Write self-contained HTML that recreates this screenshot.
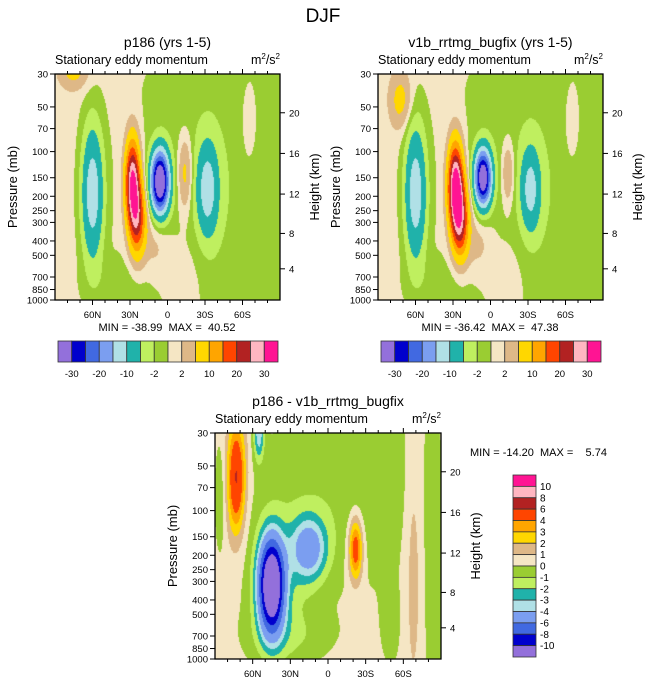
<!DOCTYPE html>
<html><head><meta charset="utf-8">
<style>
body{margin:0;background:#fff;width:647px;height:683px;overflow:hidden;position:relative;font-family:"Liberation Sans",sans-serif}
canvas{position:absolute}
svg{position:absolute;left:0;top:0}
</style></head>
<body>
<canvas id="c1" width="225" height="226" style="left:55px;top:74px"></canvas>
<canvas id="c2" width="225" height="226" style="left:378px;top:74px"></canvas>
<canvas id="c3" width="226" height="226" style="left:215px;top:433px"></canvas>
<svg id="s" width="647" height="683"></svg>
<script>
// ---- data ----
const levels12 = [-30,-25,-20,-15,-10,-5,-2,0,2,5,10,15,20,25,30];
const levels3 = [-10,-8,-6,-4,-3,-2,-1,0,1,2,3,4,6,8,10];
const levelLabels12 = ["-30","-20","-10","-2","2","10","20","30"];
const levelLabels3 = ["10","8","6","4","3","2","1","0","-1","-2","-3","-4","-6","-8","-10"];
const pressureTicks = [30,50,70,100,150,200,250,300,400,500,700,850,1000];
const heightTicks = [4,8,12,16,20];
const latTicks = [60,30,0,-30,-60];
const latLabels = ["60N","30N","0","30S","60S"];
const colors = ["#9370DB","#0000CD","#4169E1","#7B9EF0","#B0E0E6","#20B2AA","#BFEF5F","#9ACD32","#F5E6C4","#DEB887","#FFD700","#FFA500","#FF4500","#B22222","#FFB6C1","#FF1493"];
// panel 1 blobs
const p1Lat = [-38,60,28,24,6,10,-14,-32,75,-65,40,-80,-15];
const p1P   = [170,190,160,280,160,400,140,180,28,70,800,500,650];
const p1Amp = [-2.7,-14,30,20,-40,3,7,-12,6,2,-1.5,-1,1.6];
const p1Sx  = [45,6,4,4.5,5,8,4,6,8,5,20,6,12];
const p1Sy  = [1.8,0.72,0.45,0.4,0.33,0.4,0.4,0.5,0.2,0.5,0.3,1,0.6];
// panel 2 blobs
const p2Lat = [-38,60,28,24,6,10,-14,-32,72,-65,40,-80,-15];
const p2P   = [170,190,170,290,150,400,140,180,45,70,800,500,650];
const p2Amp = [-2.7,-14,34,22,-37,3,6,-11,6,2,-1.5,-1,1.6];
const p2Sx  = [45,6,4.2,4.6,4.6,8,3.5,5.5,6,5,20,6,12];
const p2Sy  = [1.8,0.72,0.45,0.4,0.3,0.4,0.35,0.45,0.3,0.5,0.3,1,0.6];
// panel 3 blobs
const p3Lat = [-20,73,45,15,-22,55,-68,40,86,30,-84,-50];
const p3P   = [60,60,320,180,180,30,150,300,80,700,500,600];
const p3Amp = [-1.4,5.8,-14,-5,5.2,-4,1.25,-1.6,-1.2,-1,-1.2,-0.9];
const p3Sx  = [45,5,7,10,4,3,5,18,3,25,5,6];
const p3Sy  = [1.2,0.6,0.5,0.35,0.35,0.3,1.5,0.9,0.6,0.3,1.5,0.5];

const LN30=Math.log(30), LNR=Math.log(1000/30);
function drawField(id,lat,P,amp,sx,sy,base,levels){
  const cv=document.getElementById(id),ctx=cv.getContext('2d');
  const w=cv.width,h=cv.height,img=ctx.createImageData(w,h);
  const rgb=colors.map(c=>[parseInt(c.substr(1,2),16),parseInt(c.substr(3,2),16),parseInt(c.substr(5,2),16)]);
  for(let py=0;py<h;py++){const lnp=LN30+(py+0.5)/h*LNR;
    for(let px=0;px<w;px++){const la=90-(px+0.5)/w*180;let v=base;
      for(let k=0;k<lat.length;k++){const dx=(la-lat[k])/sx[k],dy=(lnp-Math.log(P[k]))/sy[k];v+=amp[k]*Math.exp(-0.5*(dx*dx+dy*dy));}
      let i=0;while(i<levels.length&&v>=levels[i])i++;
      const o=(py*w+px)*4;img.data[o]=rgb[i][0];img.data[o+1]=rgb[i][1];img.data[o+2]=rgb[i][2];img.data[o+3]=255;}}
  ctx.putImageData(img,0,0);
}
drawField('c1',p1Lat,p1P,p1Amp,p1Sx,p1Sy,0.8,levels12);
drawField('c2',p2Lat,p2P,p2Amp,p2Sx,p2Sy,0.8,levels12);
drawField('c3',p3Lat,p3P,p3Amp,p3Sx,p3Sy,0.5,levels3);

const S=document.getElementById('s'),NS='http://www.w3.org/2000/svg';
function el(t,a,txt){const e=document.createElementNS(NS,t);for(const k in a)e.setAttribute(k,a[k]);if(txt!==undefined)e.textContent=txt;S.appendChild(e);return e;}
function hToP(h){const m=h*1000;return m<=11000?1013.25*Math.pow(1-2.25577e-5*m,5.25588):226.32*Math.exp(-(m-11000)/6341.6);}

function panel(x0,y0,w,h,title,name){
  const yP=p=>y0+Math.log(p/30)/LNR*h, xL=l=>x0+(90-l)/180*w;
  let e=el('text',{x:x0+w/2,y:y0-27,'text-anchor':'middle','font-size':14},title);
  
  e=el('text',{x:x0,y:y0-10,'font-size':12.5},'Stationary eddy momentum');
  
  e=el('text',{x:x0+w,y:y0-10,'text-anchor':'end','font-size':12.5});
  e.innerHTML='m<tspan dy="-5" font-size="8">2</tspan><tspan dy="5">/s</tspan><tspan dy="-5" font-size="8">2</tspan>';
  
  e=el('rect',{x:x0,y:y0,width:w,height:h,fill:'none',stroke:'#000','stroke-width':1.3});
  
  pressureTicks.forEach(p=>{const y=yP(p);el('line',{x1:x0-5,x2:x0,y1:y,y2:y,stroke:'#000'});
    e=el('text',{x:x0-7,y:y+3.5,'text-anchor':'end','font-size':9.5},p);
    });
  heightTicks.forEach(hk=>{const y=yP(hToP(hk));el('line',{x1:x0+w,x2:x0+w+5,y1:y,y2:y,stroke:'#000'});
    e=el('text',{x:x0+w+9,y:y+3.5,'font-size':9.5},hk);
    });
  for(let l=-80;l<=80;l+=10){const x=xL(l),maj=l%30===0;
    el('line',{x1:x,x2:x,y1:y0,y2:y0-(maj?5:3),stroke:'#000'});
    el('line',{x1:x,x2:x,y1:y0+h,y2:y0+h+(maj?5:3),stroke:'#000'});}
  latTicks.forEach((l,i)=>{e=el('text',{x:xL(l),y:y0+h+18,'text-anchor':'middle','font-size':9.5},latLabels[i]);
    });
  e=el('text',{transform:`translate(${x0-38},${y0+h/2}) rotate(-90)`,'text-anchor':'middle','font-size':13},'Pressure (mb)');
  
  e=el('text',{transform:`translate(${x0+w+39},${y0+h/2}) rotate(-90)`,'text-anchor':'middle','font-size':13},'Height (km)');
  
}
let t=el('text',{x:323,y:22,'text-anchor':'middle','font-size':19},'DJF');

panel(55,74,225,226,'p186 (yrs 1-5)','panel-p186');
panel(378,74,225,226,'v1b_rrtmg_bugfix (yrs 1-5)','panel-v1b');
panel(215,433,226,226,'p186 - v1b_rrtmg_bugfix','panel-diff');
const NB='\u00a0';
[[167,'MIN = -38.99'+NB+NB+'MAX = '+NB+'40.52'],[490,'MIN = -36.42'+NB+NB+'MAX = '+NB+'47.38']].forEach(([x,s])=>{
  t=el('text',{x:x,y:331,'text-anchor':'middle','font-size':11},s);
  });
t=el('text',{x:470,y:456,'font-size':11},'MIN = -14.20'+NB+NB+'MAX = '+NB+NB+NB+'5.74');


// horizontal colorbars
[58,381].forEach(x0=>{const bw=220/16;
  colors.forEach((c,i)=>{const r=el('rect',{x:x0+i*bw,y:341,width:bw,height:21,fill:c,stroke:'#333','stroke-width':0.8});
    });
  levelLabels12.forEach((s,j)=>{const r=el('text',{x:x0+(2*j+1)*bw,y:377,'text-anchor':'middle','font-size':9.5},s);
    });});
// vertical colorbar
{const bh=182/16;
 colors.slice().reverse().forEach((c,i)=>{const r=el('rect',{x:513,y:475+i*bh,width:23,height:bh,fill:c,stroke:'#333','stroke-width':0.8});
   });
 levelLabels3.forEach((s,j)=>{const r=el('text',{x:540,y:475+(j+1)*bh+3.5,'font-size':10},s);
   });}
</script>
</body></html>
